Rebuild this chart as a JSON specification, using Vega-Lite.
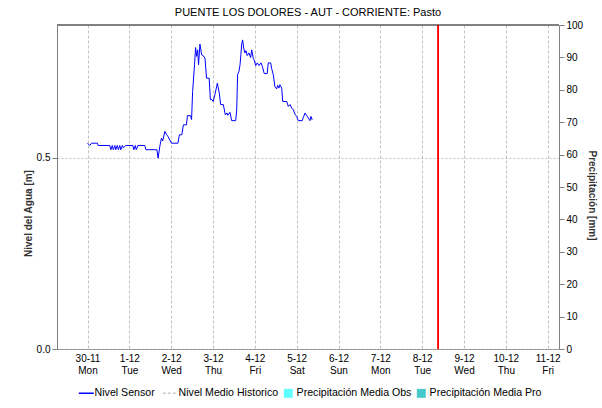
{
  "$schema": "https://vega.github.io/schema/vega-lite/v6.json",
  "width": 502,
  "height": 324,
  "autosize": {"type": "none"},
  "padding": {"left": 57, "top": 25, "right": 43, "bottom": 59},
  "background": "white",
  "title": {"text": "PUENTE LOS DOLORES - AUT - CORRIENTE: Pasto", "fontSize": 11, "fontWeight": "normal", "color": "#000000", "font": "Liberation Sans", "anchor": "middle", "frame": "group", "offset": 2},
  "config": {
    "view": {"stroke": null},
    "font": "Liberation Sans",
    "axis": {"labelFont": "Liberation Sans", "titleFont": "Liberation Sans", "labelColor": "#000000", "titleColor": "#333333", "labelFontSize": 10, "titleFontSize": 10, "titleFontWeight": "bold", "domainColor": "#808080", "tickColor": "#808080"}
  },
  "data": {"values": [
    {"t": "2020-11-30T00:00", "nivel": 0.538, "serie": "Nivel Sensor"},
    {"t": "2020-11-30T01:18", "nivel": 0.532, "serie": "Nivel Sensor"},
    {"t": "2020-11-30T02:18", "nivel": 0.538, "serie": "Nivel Sensor"},
    {"t": "2020-11-30T05:42", "nivel": 0.538, "serie": "Nivel Sensor"},
    {"t": "2020-11-30T06:06", "nivel": 0.532, "serie": "Nivel Sensor"},
    {"t": "2020-11-30T12:48", "nivel": 0.532, "serie": "Nivel Sensor"},
    {"t": "2020-11-30T13:24", "nivel": 0.521, "serie": "Nivel Sensor"},
    {"t": "2020-11-30T14:12", "nivel": 0.532, "serie": "Nivel Sensor"},
    {"t": "2020-11-30T14:48", "nivel": 0.521, "serie": "Nivel Sensor"},
    {"t": "2020-11-30T15:42", "nivel": 0.532, "serie": "Nivel Sensor"},
    {"t": "2020-11-30T16:12", "nivel": 0.521, "serie": "Nivel Sensor"},
    {"t": "2020-11-30T17:06", "nivel": 0.532, "serie": "Nivel Sensor"},
    {"t": "2020-11-30T17:42", "nivel": 0.521, "serie": "Nivel Sensor"},
    {"t": "2020-11-30T18:30", "nivel": 0.532, "serie": "Nivel Sensor"},
    {"t": "2020-11-30T19:06", "nivel": 0.521, "serie": "Nivel Sensor"},
    {"t": "2020-11-30T20:00", "nivel": 0.532, "serie": "Nivel Sensor"},
    {"t": "2020-11-30T20:36", "nivel": 0.526, "serie": "Nivel Sensor"},
    {"t": "2020-11-30T22:00", "nivel": 0.532, "serie": "Nivel Sensor"},
    {"t": "2020-12-01T02:00", "nivel": 0.532, "serie": "Nivel Sensor"},
    {"t": "2020-12-01T02:36", "nivel": 0.521, "serie": "Nivel Sensor"},
    {"t": "2020-12-01T03:24", "nivel": 0.532, "serie": "Nivel Sensor"},
    {"t": "2020-12-01T04:00", "nivel": 0.521, "serie": "Nivel Sensor"},
    {"t": "2020-12-01T04:54", "nivel": 0.532, "serie": "Nivel Sensor"},
    {"t": "2020-12-01T08:54", "nivel": 0.532, "serie": "Nivel Sensor"},
    {"t": "2020-12-01T09:30", "nivel": 0.521, "serie": "Nivel Sensor"},
    {"t": "2020-12-01T15:48", "nivel": 0.521, "serie": "Nivel Sensor"},
    {"t": "2020-12-01T16:30", "nivel": 0.499, "serie": "Nivel Sensor"},
    {"t": "2020-12-01T17:30", "nivel": 0.53, "serie": "Nivel Sensor"},
    {"t": "2020-12-01T18:24", "nivel": 0.551, "serie": "Nivel Sensor"},
    {"t": "2020-12-01T19:06", "nivel": 0.544, "serie": "Nivel Sensor"},
    {"t": "2020-12-01T20:24", "nivel": 0.569, "serie": "Nivel Sensor"},
    {"t": "2020-12-01T21:24", "nivel": 0.56, "serie": "Nivel Sensor"},
    {"t": "2020-12-01T22:06", "nivel": 0.556, "serie": "Nivel Sensor"},
    {"t": "2020-12-02T00:12", "nivel": 0.538, "serie": "Nivel Sensor"},
    {"t": "2020-12-02T03:54", "nivel": 0.538, "serie": "Nivel Sensor"},
    {"t": "2020-12-02T04:42", "nivel": 0.56, "serie": "Nivel Sensor"},
    {"t": "2020-12-02T06:06", "nivel": 0.56, "serie": "Nivel Sensor"},
    {"t": "2020-12-02T07:00", "nivel": 0.586, "serie": "Nivel Sensor"},
    {"t": "2020-12-02T08:48", "nivel": 0.586, "serie": "Nivel Sensor"},
    {"t": "2020-12-02T09:18", "nivel": 0.61, "serie": "Nivel Sensor"},
    {"t": "2020-12-02T11:06", "nivel": 0.61, "serie": "Nivel Sensor"},
    {"t": "2020-12-02T11:42", "nivel": 0.6, "serie": "Nivel Sensor"},
    {"t": "2020-12-02T12:18", "nivel": 0.673, "serie": "Nivel Sensor"},
    {"t": "2020-12-02T13:24", "nivel": 0.743, "serie": "Nivel Sensor"},
    {"t": "2020-12-02T14:00", "nivel": 0.788, "serie": "Nivel Sensor"},
    {"t": "2020-12-02T14:36", "nivel": 0.765, "serie": "Nivel Sensor"},
    {"t": "2020-12-02T15:12", "nivel": 0.782, "serie": "Nivel Sensor"},
    {"t": "2020-12-02T15:42", "nivel": 0.743, "serie": "Nivel Sensor"},
    {"t": "2020-12-02T16:30", "nivel": 0.797, "serie": "Nivel Sensor"},
    {"t": "2020-12-02T17:30", "nivel": 0.769, "serie": "Nivel Sensor"},
    {"t": "2020-12-02T18:24", "nivel": 0.767, "serie": "Nivel Sensor"},
    {"t": "2020-12-02T19:24", "nivel": 0.76, "serie": "Nivel Sensor"},
    {"t": "2020-12-02T20:18", "nivel": 0.708, "serie": "Nivel Sensor"},
    {"t": "2020-12-02T21:48", "nivel": 0.708, "serie": "Nivel Sensor"},
    {"t": "2020-12-02T22:30", "nivel": 0.652, "serie": "Nivel Sensor"},
    {"t": "2020-12-02T23:24", "nivel": 0.652, "serie": "Nivel Sensor"},
    {"t": "2020-12-03T00:06", "nivel": 0.647, "serie": "Nivel Sensor"},
    {"t": "2020-12-03T01:06", "nivel": 0.665, "serie": "Nivel Sensor"},
    {"t": "2020-12-03T02:30", "nivel": 0.695, "serie": "Nivel Sensor"},
    {"t": "2020-12-03T03:36", "nivel": 0.669, "serie": "Nivel Sensor"},
    {"t": "2020-12-03T04:24", "nivel": 0.639, "serie": "Nivel Sensor"},
    {"t": "2020-12-03T05:54", "nivel": 0.639, "serie": "Nivel Sensor"},
    {"t": "2020-12-03T07:06", "nivel": 0.612, "serie": "Nivel Sensor"},
    {"t": "2020-12-03T08:00", "nivel": 0.617, "serie": "Nivel Sensor"},
    {"t": "2020-12-03T08:30", "nivel": 0.611, "serie": "Nivel Sensor"},
    {"t": "2020-12-03T09:42", "nivel": 0.619, "serie": "Nivel Sensor"},
    {"t": "2020-12-03T10:42", "nivel": 0.597, "serie": "Nivel Sensor"},
    {"t": "2020-12-03T13:00", "nivel": 0.597, "serie": "Nivel Sensor"},
    {"t": "2020-12-03T13:36", "nivel": 0.625, "serie": "Nivel Sensor"},
    {"t": "2020-12-03T14:06", "nivel": 0.717, "serie": "Nivel Sensor"},
    {"t": "2020-12-03T14:54", "nivel": 0.726, "serie": "Nivel Sensor"},
    {"t": "2020-12-03T15:30", "nivel": 0.743, "serie": "Nivel Sensor"},
    {"t": "2020-12-03T16:00", "nivel": 0.769, "serie": "Nivel Sensor"},
    {"t": "2020-12-03T16:24", "nivel": 0.795, "serie": "Nivel Sensor"},
    {"t": "2020-12-03T17:00", "nivel": 0.808, "serie": "Nivel Sensor"},
    {"t": "2020-12-03T17:36", "nivel": 0.787, "serie": "Nivel Sensor"},
    {"t": "2020-12-03T18:18", "nivel": 0.774, "serie": "Nivel Sensor"},
    {"t": "2020-12-03T18:54", "nivel": 0.78, "serie": "Nivel Sensor"},
    {"t": "2020-12-03T19:36", "nivel": 0.767, "serie": "Nivel Sensor"},
    {"t": "2020-12-03T20:36", "nivel": 0.774, "serie": "Nivel Sensor"},
    {"t": "2020-12-03T21:36", "nivel": 0.762, "serie": "Nivel Sensor"},
    {"t": "2020-12-03T22:12", "nivel": 0.782, "serie": "Nivel Sensor"},
    {"t": "2020-12-03T23:06", "nivel": 0.76, "serie": "Nivel Sensor"},
    {"t": "2020-12-03T23:42", "nivel": 0.754, "serie": "Nivel Sensor"},
    {"t": "2020-12-04T00:30", "nivel": 0.741, "serie": "Nivel Sensor"},
    {"t": "2020-12-04T01:24", "nivel": 0.748, "serie": "Nivel Sensor"},
    {"t": "2020-12-04T02:24", "nivel": 0.741, "serie": "Nivel Sensor"},
    {"t": "2020-12-04T03:30", "nivel": 0.748, "serie": "Nivel Sensor"},
    {"t": "2020-12-04T04:18", "nivel": 0.739, "serie": "Nivel Sensor"},
    {"t": "2020-12-04T05:24", "nivel": 0.72, "serie": "Nivel Sensor"},
    {"t": "2020-12-04T07:06", "nivel": 0.72, "serie": "Nivel Sensor"},
    {"t": "2020-12-04T07:42", "nivel": 0.748, "serie": "Nivel Sensor"},
    {"t": "2020-12-04T09:06", "nivel": 0.748, "serie": "Nivel Sensor"},
    {"t": "2020-12-04T09:36", "nivel": 0.734, "serie": "Nivel Sensor"},
    {"t": "2020-12-04T10:36", "nivel": 0.717, "serie": "Nivel Sensor"},
    {"t": "2020-12-04T11:30", "nivel": 0.686, "serie": "Nivel Sensor"},
    {"t": "2020-12-04T12:30", "nivel": 0.68, "serie": "Nivel Sensor"},
    {"t": "2020-12-04T13:06", "nivel": 0.689, "serie": "Nivel Sensor"},
    {"t": "2020-12-04T13:48", "nivel": 0.682, "serie": "Nivel Sensor"},
    {"t": "2020-12-04T14:24", "nivel": 0.691, "serie": "Nivel Sensor"},
    {"t": "2020-12-04T15:24", "nivel": 0.682, "serie": "Nivel Sensor"},
    {"t": "2020-12-04T16:00", "nivel": 0.647, "serie": "Nivel Sensor"},
    {"t": "2020-12-04T18:18", "nivel": 0.647, "serie": "Nivel Sensor"},
    {"t": "2020-12-04T19:12", "nivel": 0.634, "serie": "Nivel Sensor"},
    {"t": "2020-12-04T20:12", "nivel": 0.639, "serie": "Nivel Sensor"},
    {"t": "2020-12-04T21:06", "nivel": 0.63, "serie": "Nivel Sensor"},
    {"t": "2020-12-04T22:06", "nivel": 0.625, "serie": "Nivel Sensor"},
    {"t": "2020-12-04T23:00", "nivel": 0.614, "serie": "Nivel Sensor"},
    {"t": "2020-12-05T00:00", "nivel": 0.608, "serie": "Nivel Sensor"},
    {"t": "2020-12-05T00:54", "nivel": 0.597, "serie": "Nivel Sensor"},
    {"t": "2020-12-05T03:12", "nivel": 0.597, "serie": "Nivel Sensor"},
    {"t": "2020-12-05T03:48", "nivel": 0.605, "serie": "Nivel Sensor"},
    {"t": "2020-12-05T04:48", "nivel": 0.617, "serie": "Nivel Sensor"},
    {"t": "2020-12-05T05:48", "nivel": 0.61, "serie": "Nivel Sensor"},
    {"t": "2020-12-05T06:42", "nivel": 0.604, "serie": "Nivel Sensor"},
    {"t": "2020-12-05T07:36", "nivel": 0.597, "serie": "Nivel Sensor"},
    {"t": "2020-12-05T08:12", "nivel": 0.608, "serie": "Nivel Sensor"},
    {"t": "2020-12-05T08:48", "nivel": 0.6, "serie": "Nivel Sensor"},
    {"t": "2020-12-05T09:12", "nivel": 0.602, "serie": "Nivel Sensor"}
  ]},
  "layer": [
    {
      "layer": [
        {
          "mark": {"type": "line", "strokeWidth": 1, "interpolate": "linear"},
          "encoding": {
            "x": {"field": "t", "type": "temporal",
              "scale": {"domain": [{"year": 2020, "month": 11, "date": 29, "hours": 6, "minutes": 30}, {"year": 2020, "month": 12, "date": 11, "hours": 6, "minutes": 30}], "nice": false},
              "axis": {"title": null, "tickCount": {"interval": "day", "step": 1}, "labelExpr": "[timeFormat(datum.value, '%-d-%m'), timeFormat(datum.value, '%a')]", "labelLineHeight": 12, "labelPadding": 4, "ticks": false, "grid": true, "gridColor": "#c0c0c0", "gridDash": [3, 2], "domainColor": "#555555", "domainDash": [1, 1], "labelFlush": false, "labelOverlap": false}},
            "y": {"field": "nivel", "type": "quantitative",
              "scale": {"domain": [0, 0.847], "nice": false, "zero": true},
              "axis": {"orient": "left", "title": "Nivel del Agua [m]", "values": [0, 0.5], "format": ".1f", "grid": true, "gridColor": "#c0c0c0", "gridDash": [2, 2], "tickSize": 5, "titlePadding": 3, "titleY": 188}},
            "color": {"field": "serie", "type": "nominal",
              "scale": {"domain": ["Nivel Sensor", "Nivel Medio Historico", "Precipitación Media Obs", "Precipitación Media Pro"], "range": ["#0000ff", "#c8c8c8", "#60ffff", "#48c8c8"]},
              "legend": {"title": null, "orient": "none", "direction": "horizontal", "legendX": 24, "legendY": 363, "labelFontSize": 10.6, "labelFont": "Liberation Sans", "labelColor": "#000000", "symbolSize": 225, "symbolStrokeWidth": 1.5, "columnPadding": 4, "labelOffset": 3, "padding": 0,
                "encode": {"symbols": {"update": {
                  "shape": {"signal": "datum.index >= 2 ? 'square' : 'stroke'"},
                  "fill": {"signal": "datum.index == 2 ? '#60ffff' : datum.index == 3 ? '#48c8c8' : 'transparent'"},
                  "strokeDash": {"signal": "datum.index == 1 ? [3, 2] : [1, 0]"},
                  "strokeWidth": {"signal": "datum.index >= 2 ? 0 : 1.5"},
                  "size": {"signal": "datum.index >= 2 ? 80 : 225"}
                }}}}}
          }
        },
        {
          "mark": {"type": "rule", "color": "#808080", "strokeWidth": 1},
          "encoding": {"y": {"datum": 0.847, "type": "quantitative"}}
        }
      ]
    },
    {
      "mark": {"type": "rule", "color": "#ff0000", "strokeWidth": 1},
      "encoding": {
        "x": {"datum": {"year": 2020, "month": 12, "date": 8, "hours": 9, "minutes": 22}, "type": "temporal"},
        "y": {"datum": 0, "type": "quantitative", "scale": {"domain": [0, 100], "nice": false}, "axis": {"orient": "right", "title": "Precipitación [mm]", "values": [0, 10, 20, 30, 40, 50, 60, 70, 80, 90, 100], "grid": false, "tickSize": 5, "titlePadding": 4, "titleY": 170}},
        "y2": {"datum": 100}
      }
    }
  ],
  "resolve": {"scale": {"y": "independent"}}
}
